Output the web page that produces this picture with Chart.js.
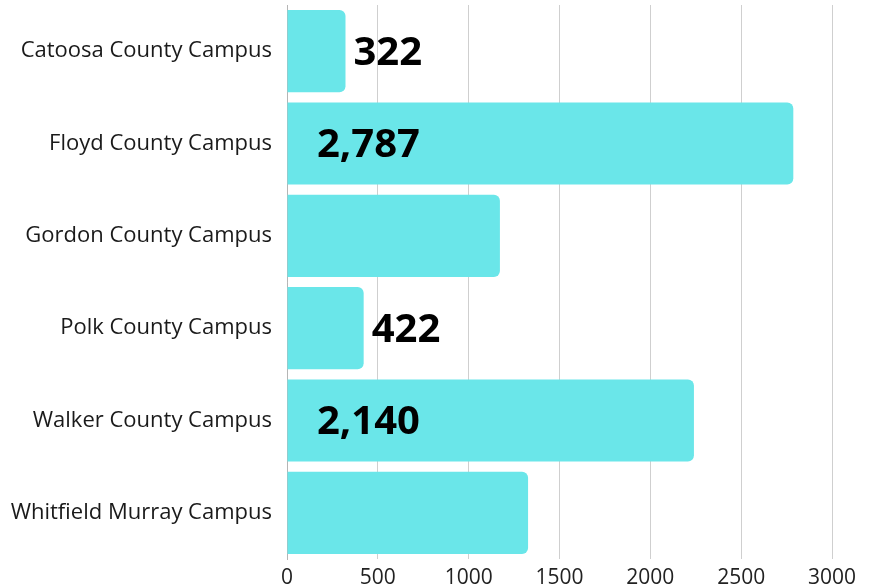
<!DOCTYPE html>
<html>
<head>
<meta charset="utf-8">
<script src="https://cdn.jsdelivr.net/npm/chart.js@4/dist/chart.umd.min.js"></script>
<style>
html,body{margin:0;padding:0;background:#fff;}
#wrap{width:877px;height:587px;position:relative;}
</style>
</head>
<body>
<div id="wrap"><canvas id="c" width="877" height="587"></canvas></div>
<script>
const categories = ["Catoosa County Campus","Floyd County Campus","Gordon County Campus","Polk County Campus","Walker County Campus","Whitfield Murray Campus"];
const values = [322, 2787, 1172, 422, 2240, 1327];
const valueLabels = ["322","2,787","","422","2,140",""];
const xTicks = [0,500,1000,1500,2000,2500,3000];

const labelPlugin = {
  id: 'valueLabels',
  afterDatasetsDraw(chart) {
    const ctx = chart.ctx;
    const meta = chart.getDatasetMeta(0);
    const xs = chart.scales.x;
    ctx.save();
    ctx.font = 'bold 40px "Open Sans"';
    ctx.fillStyle = '#000';
    ctx.textBaseline = 'middle';
    ctx.textAlign = 'left';
    meta.data.forEach((bar, i) => {
      const t = valueLabels[i];
      if (!t) return;
      const w = ctx.measureText(t).width;
      const start = xs.getPixelForValue(0);
      let x;
      if (bar.x - start > w + 60) x = start + 30; else x = bar.x + 8;
      ctx.fillText(t, x, bar.y + 2);
    });
    ctx.restore();
  }
};

new Chart(document.getElementById('c'), {
  type: 'bar',
  data: {
    labels: categories,
    datasets: [{
      data: values,
      backgroundColor: '#6ae6e9',
      borderRadius: 6,
      borderSkipped: 'start',
      categoryPercentage: 1,
      barPercentage: 0.89
    }]
  },
  options: {
    indexAxis: 'y',
    responsive: false,
    animation: false,
    layout: { padding: { top: 5, right: 45, left: 0, bottom: 0 } },
    plugins: { legend: { display: false }, tooltip: { enabled: false } },
    scales: {
      x: {
        min: 0, max: 3000,
        afterBuildTicks(s) { s.ticks = xTicks.map(v => ({ value: v })); },
        grid: { color: '#cfcfcf', drawTicks: false, lineWidth: 1 },
        border: { display: false },
        ticks: { color: '#222', font: { family: 'Open Sans', size: 21 }, padding: 6, maxRotation: 0, callback: v => String(v) },
        afterFit(s) { s.height = 28; s.paddingLeft = 0; s.paddingRight = 0; }
      },
      y: {
        grid: { display: false },
        border: { display: true, color: '#b5b5b5', width: 1 },
        ticks: { color: '#1a1a1a', font: { family: 'Open Sans', size: 22 }, padding: 7 },
        afterFit(s) { s.width = 287; s.paddingTop = 0; s.paddingBottom = 0; }
      }
    }
  },
  plugins: [labelPlugin]
});
</script>
</body>
</html>
